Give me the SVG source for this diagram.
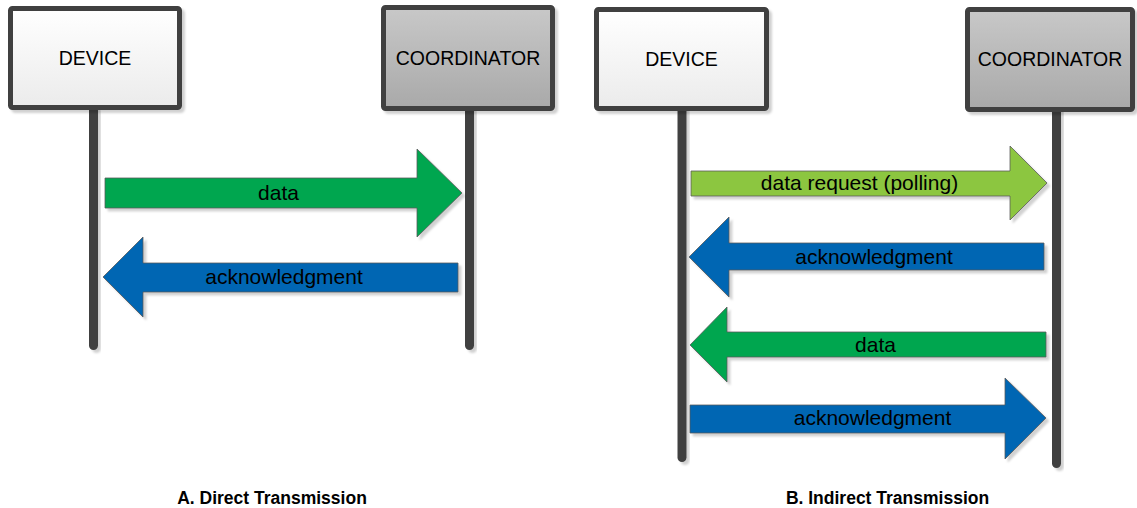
<svg xmlns="http://www.w3.org/2000/svg" width="1137" height="508" viewBox="0 0 1137 508">
  <defs>
    <linearGradient id="gDev" x1="0" y1="0" x2="0" y2="1">
      <stop offset="0" stop-color="#ffffff"/>
      <stop offset="1" stop-color="#ebebeb"/>
    </linearGradient>
    <linearGradient id="gCoord" x1="0" y1="0" x2="0" y2="1">
      <stop offset="0" stop-color="#c8c8c8"/>
      <stop offset="1" stop-color="#a9a9a9"/>
    </linearGradient>
    <filter id="sh" x="-20%" y="-10%" width="150%" height="130%">
      <feDropShadow dx="3" dy="3" stdDeviation="1.2" flood-color="#000" flood-opacity="0.18"/>
    </filter>
  </defs>
  <style>
    .box{stroke:#404040;stroke-width:5;filter:url(#sh)}
    .dev{fill:url(#gDev)}
    .coord{fill:url(#gCoord)}
    .life{fill:#404040;filter:url(#sh)}
    .arrow{stroke:#5a5a5a;stroke-width:0.8;stroke-linejoin:miter;filter:url(#sh)}
    .green{fill:#00a64f}
    .lgreen{fill:#8cc63f}
    .blue{fill:#0066b3}
    .nl{font-family:"Liberation Sans",Arial,sans-serif;font-size:19.5px;fill:#000;text-anchor:middle}
    .al{font-family:"Liberation Sans",Arial,sans-serif;font-size:21px;fill:#000;text-anchor:middle}
    .cap{font-family:"Liberation Sans",Arial,sans-serif;font-size:17.5px;font-weight:bold;fill:#000;text-anchor:middle}
  </style>
  <rect width="1137" height="508" fill="#ffffff"/>

  <!-- Panel A -->
  <g id="a-device">
    <rect class="life" x="89" y="105" width="9" height="245" rx="4.5"/>
    <rect class="box dev" x="10.5" y="8.5" width="169" height="99" rx="2"/>
    <text class="nl" x="95" y="65">DEVICE</text>
  </g>
  <g id="a-coordinator">
    <rect class="life" x="465" y="105" width="9" height="245" rx="4.5"/>
    <rect class="box coord" x="383.5" y="7.5" width="169" height="101" rx="2"/>
    <text class="nl" x="468" y="65">COORDINATOR</text>
  </g>

  <!-- Panel B -->
  <g id="b-device">
    <rect class="life" x="677.5" y="105" width="9" height="357" rx="4.5"/>
    <rect class="box dev" x="596.5" y="9.5" width="170" height="99" rx="2"/>
    <text class="nl" x="681.5" y="66">DEVICE</text>
  </g>
  <g id="b-coordinator">
    <rect class="life" x="1052" y="105" width="9" height="363" rx="4.5"/>
    <rect class="box coord" x="967.5" y="9.5" width="165" height="100" rx="2"/>
    <text class="nl" x="1050" y="66">COORDINATOR</text>
  </g>

  <g id="connectors">
    <g id="a-data">
      <polygon class="arrow green" points="105,178 417,178 417,149 462,193 417,237 417,208 105,208"/>
      <text class="al" x="278.5" y="200">data</text>
    </g>
    <g id="a-ack">
      <polygon class="arrow blue" points="458,263 143,263 143,237 103,277 143,317 143,292 458,292"/>
      <text class="al" x="284" y="284">acknowledgment</text>
    </g>
    <g id="b-request">
      <polygon class="arrow lgreen" points="691,171 1010,171 1010,146 1047,183 1010,220 1010,196 691,196"/>
      <text class="al" x="859.5" y="190">data request (polling)</text>
    </g>
    <g id="b-ack1">
      <polygon class="arrow blue" points="1044,243 729,243 729,217 689,257 729,297 729,270 1044,270"/>
      <text class="al" x="874" y="264">acknowledgment</text>
    </g>
    <g id="b-data">
      <polygon class="arrow green" points="1046,332 727,332 727,307 690,345 727,382 727,357 1046,357"/>
      <text class="al" x="875.5" y="352">data</text>
    </g>
    <g id="b-ack2">
      <polygon class="arrow blue" points="690,405 1005,405 1005,378 1046,418 1005,459 1005,433 690,433"/>
      <text class="al" x="872.5" y="425">acknowledgment</text>
    </g>
  </g>

  <text class="cap" x="272" y="504">A. Direct Transmission</text>
  <text class="cap" x="887.5" y="504">B. Indirect Transmission</text>
</svg>
